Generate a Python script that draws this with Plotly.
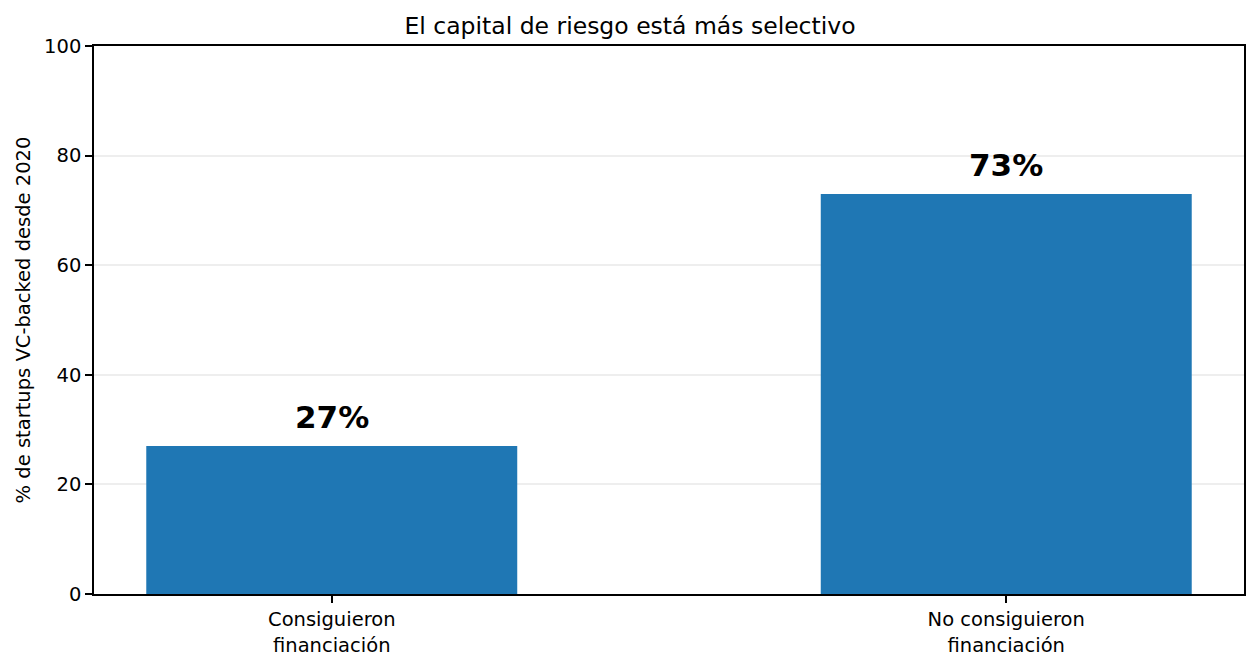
import plotly.graph_objects as go

categories = ["Consiguieron<br>financiación", "No consiguieron<br>financiación"]
shares = [27, 73]
labels = ["27%", "73%"]

FONT = "DejaVu Sans"

fig = go.Figure(go.Bar(
    x=[0, 1],
    y=shares,
    width=0.55,
    marker=dict(color="#1f77b4", line=dict(width=0)),
    hoverinfo="skip",
))

# value labels just above each bar
for i, (v, t) in enumerate(zip(shares, labels)):
    fig.add_annotation(
        x=i, y=v + 1.7, text=f"<b>{t}</b>", showarrow=False,
        yanchor="bottom", font=dict(family=FONT, size=31, color="black"),
    )

axis_common = dict(
    showline=True, linecolor="black", linewidth=1.6, mirror=True,
    ticks="outside", ticklen=7, tickwidth=1.6, tickcolor="black",
    tickfont=dict(family=FONT, size=19.5, color="black"),
    zeroline=False, automargin=False,
)

# the page puts the figure ~7px in from the top-left corner
fig.update_layout(
    width=1244, height=648,
    margin=dict(l=86, r=8, t=38, b=62),
    plot_bgcolor="white", paper_bgcolor="white",
    showlegend=False,
    title=dict(
        text="El capital de riesgo está más selectivo",
        x=0.5, xanchor="center", y=1 - 18 / 648, yanchor="middle",
        font=dict(family=FONT, size=23.5, color="black"),
    ),
    xaxis=dict(
        range=[-0.3525, 1.3525], tickvals=[0, 1], ticktext=categories,
        showgrid=False, **axis_common,
    ),
    yaxis=dict(
        range=[0, 100], tickvals=[0, 20, 40, 60, 80, 100],
        showgrid=True, gridcolor="rgba(200,200,200,0.3)", gridwidth=1.6,
        layer="above traces",
        title=dict(text="% de startups VC-backed desde 2020",
                   font=dict(family=FONT, size=19.5, color="black"), standoff=8),
        **axis_common,
    ),
)

fig.write_html("out.html")
